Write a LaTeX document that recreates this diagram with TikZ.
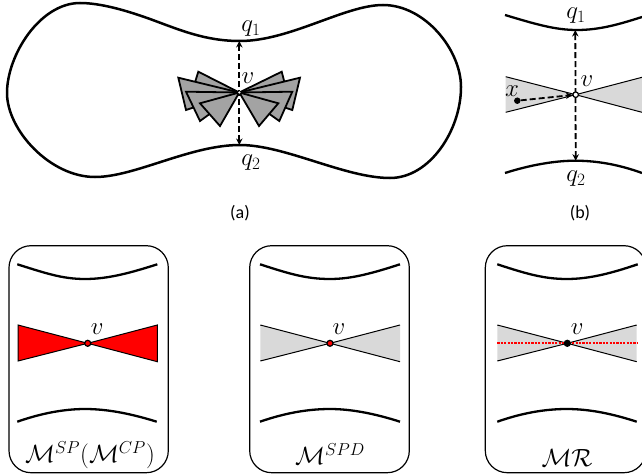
\documentclass[tikz,border=0pt]{standalone}
\usepackage{fontspec}
\setmainfont{Carlito}
\usetikzlibrary{arrows.meta}
\tikzset{
  curveline/.style={line width=2.3pt,line cap=butt},
  outline/.style={line width=2.5pt,line join=round},
  fan/.style={draw=black,fill=black!36,line width=1.8pt,line join=miter},
  dasharrow/.style={line width=1.8pt,dash pattern=on 6pt off 3pt,{Stealth[length=6.5pt,width=6.5pt]}-{Stealth[length=6.5pt,width=6.5pt]}},
  dashone/.style={line width=1.8pt,dash pattern=on 6pt off 3pt,-{Stealth[length=6.5pt,width=6.5pt]}},
  wedge/.style={draw=black,line width=1pt,line join=miter},
  panel/.style={draw=black,line width=1.2pt,rounded corners=22pt},
  mathlabel/.style={font=\fontsize{23}{26}\selectfont,inner sep=0pt},
  vlabel/.style={font=\fontsize{23}{26}\selectfont,inner sep=0pt},
  caplabel/.style={font=\fontsize{18}{20}\selectfont,inner sep=0pt},
  vdot/.style={circle,draw=black,line width=1.2pt,minimum size=6pt,inner sep=0pt},
}
\definecolor{wedgegray}{gray}{0.85}
\begin{document}
\begin{tikzpicture}[x=1pt,y=-1pt]
\clip (0,0) rectangle (642,476);
\fill[white] (0,0) rectangle (642,476);
% blob
\draw[outline] (240,41) .. controls (205,41) and (180,30) .. (150,19)
  .. controls (125,10) and (100,3) .. (80,3)
  .. controls (40,3) and (7,55) .. (7,93)
  .. controls (7,130) and (50,177) .. (95,177)
  .. controls (135,177) and (190,145) .. (240,145)
  .. controls (285,145) and (345,178) .. (390,178)
  .. controls (430,178) and (461,130) .. (461,87)
  .. controls (461,50) and (425,5) .. (383,5)
  .. controls (345,5) and (290,41) .. (240,41) -- cycle;
% fan
\coordinate (apex) at (239.3,92.5);
\draw[fan] (apex) -- (198.3,71.7) -- (192,92) -- cycle;
\draw[fan] (apex) -- (281.7,71.7) -- (287,92) -- cycle;
\draw[fan] (apex) -- (178.3,77.7) -- (186,110) -- cycle;
\draw[fan] (apex) -- (300,77.7) -- (292.3,110) -- cycle;
\draw[fan] (apex) -- (186,91.7) -- (200,121) -- cycle;
\draw[fan] (apex) -- (292.3,91.7) -- (279.3,121) -- cycle;
\draw[fan] (apex) -- (200,103.3) -- (220,126) -- cycle;
\draw[fan] (apex) -- (278.3,103.3) -- (259,126) -- cycle;
\coordinate (aq1) at (239.3,41);
\coordinate (aq2) at (239.3,145);
\draw[dasharrow] (aq1) -- (aq2);
\node[circle,fill=white,minimum size=2.5pt,inner sep=0pt] (av) at (apex) {};
\node[vlabel] (avl) at (248,78) {$v$};
\node[mathlabel] (aq1l) at (251,29) {$q_1$};
\node[mathlabel] (aq2l) at (251,163) {$q_2$};
\node[caplabel] (capa) at (240,213) {(a)};
% panel b
\draw[curveline] (505,15) .. controls (535,24) and (555,30) .. (577,30) .. controls (600,30) and (620,24) .. (642,17);
\draw[curveline] (505,173) .. controls (530,165) and (555,160.7) .. (575,160.7) .. controls (598,160.7) and (620,165) .. (642,173);
\coordinate (bv) at (575.7,94.7);
\draw[wedge,fill=wedgegray] (505.7,76.7) -- (bv) -- (505.7,112.3);
\draw[wedge,fill=wedgegray] (642,77.3) -- (bv) -- (642,112.3);
\coordinate (bq1) at (575.3,30);
\coordinate (bq2) at (575.7,160.7);
\draw[dasharrow] (bq1) -- (bq2);
\node[circle,fill=black,minimum size=6.5pt,inner sep=0pt] (bx) at (517.3,100.7) {};
\node[vdot,fill=white,minimum size=5.5pt] (bvd) at (bv) {};
\draw[dashone] (bx) -- (bvd);
\node[vlabel] (bxl) at (512,91) {$x$};
\node[vlabel] (bvl) at (587,81) {$v$};
\node[mathlabel] (bq1l) at (576,16) {$q_1$};
\node[mathlabel] (bq2l) at (576,179) {$q_2$};
\node[caplabel] (capb) at (580,213) {(b)};
% bottom panel 1
\draw[panel] (9,245.7) rectangle (168.3,472.7);
\draw[curveline] (17.3,264.3) .. controls (45,273) and (62,279) .. (85,279) .. controls (108,279) and (130,273) .. (157.3,264.3);
\draw[curveline] (17.3,421.7) .. controls (42,413) and (65,409) .. (85,409) .. controls (108,409) and (132,414) .. (156.7,421.7);
\coordinate (c1v) at (87.7,343.3);
\draw[wedge,fill=red] (18,325) -- (c1v) -- (18,361) -- cycle;
\draw[wedge,fill=red] (157.3,325) -- (c1v) -- (157.3,361.7) -- cycle;
\node[vdot,fill=red] (c1d) at (c1v) {};
\node[vlabel] (c1l) at (97.3,329) {$v$};
\node[mathlabel] (c1c) at (90,455) {$\mathcal{M}^{SP}(\mathcal{M}^{CP})$};
% bottom panel 2
\draw[panel] (249.7,245.7) rectangle (409.3,472.7);
\draw[curveline] (260,264.3) .. controls (287,273) and (305,279) .. (330,279) .. controls (352,279) and (373,273) .. (400,264.3);
\draw[curveline] (260,421.7) .. controls (285,413) and (308,409) .. (330,409) .. controls (352,409) and (376,414) .. (400,421.7);
\coordinate (c2v) at (330,343.3);
\draw[wedge,fill=wedgegray] (260.3,325) -- (c2v) -- (260.3,361);
\draw[wedge,fill=wedgegray] (400,325) -- (c2v) -- (400,361.7);
\node[vdot,fill=red] (c2d) at (c2v) {};
\node[vlabel] (c2l) at (339,329) {$v$};
\node[mathlabel] (c2c) at (330,454) {$\mathcal{M}^{SPD}$};
% bottom panel 3
\draw[panel] (485.3,245.7) rectangle (646,472.7);
\draw[curveline] (497.3,264.3) .. controls (524,273) and (543,279) .. (566.7,279) .. controls (590,279) and (612,273) .. (637.7,264.3);
\draw[curveline] (497.3,421.7) .. controls (522,413) and (545,409) .. (566.7,409) .. controls (590,409) and (613,414) .. (636.7,421.7);
\coordinate (c3v) at (567.3,343.3);
\coordinate (c3a) at (497.3,343.3);
\coordinate (c3b) at (637.7,343.3);
\draw[wedge,fill=wedgegray] (497.3,325) -- (c3v) -- (497.3,361);
\draw[wedge,fill=wedgegray] (636.7,325) -- (c3v) -- (636.7,361.7);
\draw[red,line width=2.2pt,dash pattern=on 2.2pt off 1.2pt] (c3a) -- (c3b);
\node[vdot,fill=black] (c3d) at (c3v) {};
\node[vlabel] (c3l) at (577.3,329) {$v$};
\node[mathlabel] (c3c) at (567,458) {$\mathcal{M}\mathcal{R}$};
\end{tikzpicture}
\end{document}
